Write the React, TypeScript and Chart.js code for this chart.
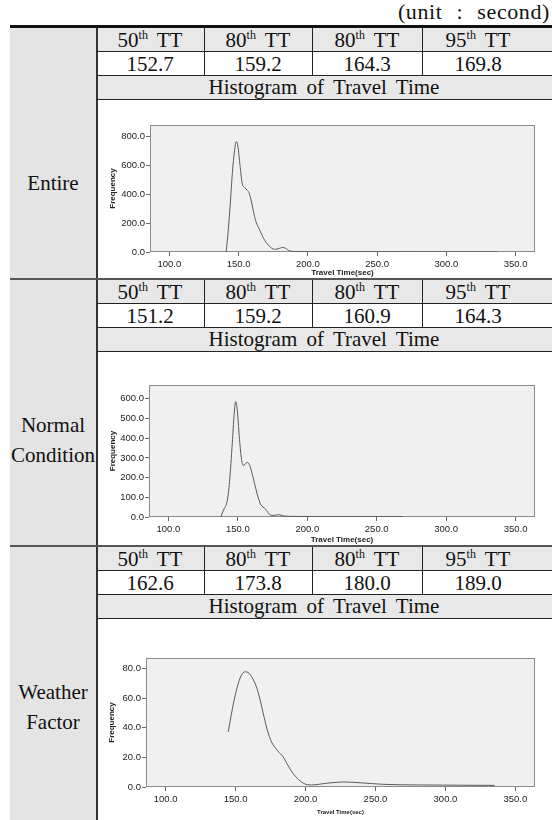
import React, { useEffect, useRef } from "react";
import { Chart, registerables } from "chart.js";
Chart.register(...registerables);

// ---------- data ----------
const percentiles = ["50", "80", "80", "95"];
const entireStats = ["152.7", "159.2", "164.3", "169.8"];
const normalStats = ["151.2", "159.2", "160.9", "164.3"];
const weatherStats = ["162.6", "173.8", "180.0", "189.0"];
const xTicks = [100, 150, 200, 250, 300, 350];
const entireYTicks = [0, 200, 400, 600, 800];
const normalYTicks = [0, 100, 200, 300, 400, 500, 600];
const weatherYTicks = [0, 20, 40, 60, 80];

const entireX = [141, 142.5, 144, 145.5, 147, 148.3, 149.5, 151, 152.5, 154.3, 156, 157.4, 159, 160.5, 162.5, 165, 168, 172, 175.8, 178.5, 181.8, 184, 187, 192, 200, 230, 280, 337];
const entireY = [0, 150, 340, 551, 700, 765, 730, 600, 480, 447, 430, 413, 360, 290, 210, 158, 95, 42, 19, 22, 32, 25, 7, 3, 2, 2, 1, 1];

const normalX = [137.6, 140, 142.4, 144, 146, 147.3, 148.4, 149.6, 151, 152.5, 153.8, 155.3, 156.7, 158.5, 160.3, 162, 163.9, 166.3, 169.9, 173.4, 176, 179.4, 183, 190, 210, 240, 269];
const normalY = [0, 40, 83, 180, 376, 520, 586, 540, 410, 300, 262, 268, 278, 262, 221, 170, 117, 66, 40, 10, 8, 12, 5, 3, 2, 2, 2];

const weatherX = [144.8, 147, 149.5, 152, 154.5, 157.1, 159.5, 162, 164.9, 167.5, 169.8, 172.5, 175.7, 180, 184, 187.5, 191.2, 195, 198.3, 201, 204.3, 215, 227, 240, 255.5, 280, 310, 335.2];
const weatherY = [37.2, 49, 60.8, 70, 76, 77.7, 76.8, 73.5, 67.6, 59, 49.6, 39, 30.4, 24.5, 20.3, 14.5, 9, 5, 2.7, 1.6, 1.4, 2.5, 3.4, 2.8, 1.8, 1.4, 1.2, 1.1];

// ---------- layout ----------
const PAGE_W = 552;
const LEFT = 10;
const COL_X = [96, 204, 312, 422, 534];
const ROW_H = 24;
const SERIF = "'Liberation Serif', 'Times New Roman', serif";
const SANS = "'Liberation Sans', Arial, sans-serif";

const plotFrame = {
  id: "plotFrame",
  beforeDatasetsDraw(chart: any) {
    const { ctx, chartArea: a } = chart;
    ctx.save();
    ctx.fillStyle = "#f0f0f0";
    ctx.fillRect(a.left, a.top, a.right - a.left, a.bottom - a.top);
    ctx.strokeStyle = "#8a8a8a";
    ctx.lineWidth = 1;
    ctx.strokeRect(a.left + 0.5, a.top + 0.5, a.right - a.left - 1, a.bottom - a.top - 1);
    ctx.restore();
  },
};

type ChartProps = {
  xs: number[];
  ys: number[];
  yTicks: number[];
  yMax: number;
  cellTop: number;
  cellBottom: number;
  plotLeft: number;
  plotTop: number;
  plotBottom: number;
  plotRight: number;
  yTitleX: number;
  xTitleY: number;
  xTitleSize: number;
};

function Histo(p: ChartProps) {
  const ref = useRef<HTMLCanvasElement | null>(null);
  const canvasLeft = COL_X[0] + 2;
  const width = PAGE_W - canvasLeft;
  const height = p.cellBottom - p.cellTop;
  useEffect(() => {
    if (!ref.current) return;
    const yScaleLeft = p.yTitleX - 4 - canvasLeft;
    const chart = new Chart(ref.current, {
      type: "line",
      data: {
        datasets: [
          {
            data: p.xs.map((x, i) => ({ x, y: p.ys[i] })),
            borderColor: "#5a5a5a",
            borderWidth: 1,
            pointRadius: 0,
            cubicInterpolationMode: "monotone",
            fill: false,
          },
        ],
      },
      options: {
        animation: false,
        responsive: false,
        maintainAspectRatio: false,
        layout: {
          padding: {
            left: yScaleLeft,
            top: p.plotTop - p.cellTop,
            right: PAGE_W - p.plotRight,
            bottom: p.cellBottom - p.xTitleY - p.xTitleSize / 2,
          },
        },
        plugins: { legend: { display: false }, tooltip: { enabled: false } },
        scales: {
          x: {
            type: "linear",
            min: 86,
            max: 364,
            afterBuildTicks: (axis: any) => {
              axis.ticks = xTicks.map((v) => ({ value: v }));
            },
            afterFit: (scale: any) => {
              scale.height = p.xTitleY + p.xTitleSize / 2 - p.plotBottom;
            },
            grid: { drawOnChartArea: false, drawTicks: true, tickLength: 4, color: "#666" },
            border: { display: false },
            ticks: {
              padding: 3,
              color: "#222",
              font: { family: SANS, size: 9.5 },
              maxRotation: 0,
              autoSkip: false,
              callback: (v: any) => Number(v).toFixed(1),
            },
            title: {
              display: true,
              text: "Travel Time(sec)",
              color: "#222",
              padding: 0,
              font: { family: SANS, size: p.xTitleSize, weight: "bold", lineHeight: 1 },
            },
          },
          y: {
            type: "linear",
            min: 0,
            max: p.yMax,
            afterBuildTicks: (axis: any) => {
              axis.ticks = p.yTicks.map((v) => ({ value: v }));
            },
            afterFit: (scale: any) => {
              scale.width = p.plotLeft - p.yTitleX + 4;
            },
            grid: { drawOnChartArea: false, drawTicks: true, tickLength: 4, color: "#666" },
            border: { display: false },
            ticks: {
              padding: 1,
              color: "#222",
              font: { family: SANS, size: 9.5 },
              autoSkip: false,
              callback: (v: any) => Number(v).toFixed(1),
            },
            title: {
              display: true,
              text: "Frequency",
              color: "#222",
              padding: 0,
              font: { family: SANS, size: 8, weight: "bold", lineHeight: 1 },
            },
          },
        },
      },
      plugins: [plotFrame],
    } as any);
    return () => chart.destroy();
  }, []);
  return (
    <canvas
      ref={ref}
      width={width}
      height={height}
      style={{ position: "absolute", left: canvasLeft, top: p.cellTop, width, height }}
    />
  );
}

function abs(left: number, top: number, width: number, height: number, extra: any = {}) {
  return { position: "absolute" as const, left, top, width, height, ...extra };
}

function TextCell({ left, top, width, height, bg, children, size = 21 }: any) {
  return (
    <div
      style={abs(left, top, width, height, {
        background: bg,
        display: "flex",
        alignItems: "center",
        justifyContent: "center",
        fontFamily: SERIF,
        fontSize: size,
        color: "#111",
        wordSpacing: 4,
        lineHeight: 1,
        whiteSpace: "nowrap",
      })}
    >
      {children}
    </div>
  );
}

type Section = {
  names: string[];
  nameY: number;
  stats: string[];
  top: number;
  bottom: number;
  chart: Omit<ChartProps, "cellTop" | "cellBottom">;
};

const sections: Section[] = [
  {
    names: ["Entire"],
    nameY: 183,
    stats: entireStats,
    top: 27,
    bottom: 279,
    chart: {
      xs: entireX, ys: entireY, yTicks: entireYTicks, yMax: 880,
      plotLeft: 150, plotTop: 125, plotBottom: 252, plotRight: 535,
      yTitleX: 113, xTitleY: 273, xTitleSize: 8,
    },
  },
  {
    names: ["Normal", "Condition"],
    nameY: 440,
    stats: normalStats,
    top: 279,
    bottom: 546,
    chart: {
      xs: normalX, ys: normalY, yTicks: normalYTicks, yMax: 670,
      plotLeft: 149, plotTop: 385, plotBottom: 517, plotRight: 535,
      yTitleX: 113, xTitleY: 540, xTitleSize: 8,
    },
  },
  {
    names: ["Weather", "Factor"],
    nameY: 707,
    stats: weatherStats,
    top: 546,
    bottom: 820,
    chart: {
      xs: weatherX, ys: weatherY, yTicks: weatherYTicks, yMax: 87,
      plotLeft: 146, plotTop: 658, plotBottom: 787, plotRight: 535,
      yTitleX: 112, xTitleY: 812, xTitleSize: 6,
    },
  },
];

function SectionView({ s }: { s: Section }) {
  const x0 = COL_X[0];
  const w = PAGE_W - x0;
  const r1 = s.top;
  const r2 = s.top + ROW_H;
  const r3 = s.top + 2 * ROW_H;
  const r4 = s.top + 3 * ROW_H;
  return (
    <>
      {/* header row */}
      <div style={abs(x0, r1, w, ROW_H, { background: "#e8e8e8" })} />
      {percentiles.map((p, i) => (
        <TextCell key={"h" + i} left={COL_X[i]} top={r1 + 1} width={COL_X[i + 1] - COL_X[i]} height={ROW_H}>
          <span>
            {p}
            <sup style={{ fontSize: 12, verticalAlign: 0, position: "relative", top: -8 }}>th</sup>
            {" "}TT
          </span>
        </TextCell>
      ))}
      {/* value row */}
      {s.stats.map((v, i) => (
        <TextCell key={"v" + i} left={COL_X[i]} top={r2 + 1} width={COL_X[i + 1] - COL_X[i]} height={ROW_H}>
          {v}
        </TextCell>
      ))}
      {/* histogram title row */}
      <TextCell left={x0} top={r3} width={w} height={ROW_H} bg="#e8e8e8">
        <span>Histogram of Travel Time</span>
      </TextCell>
      {/* lines */}
      <div style={abs(x0, r2, w, 1, { background: "#222" })} />
      <div style={abs(x0, r3, w, 1, { background: "#222" })} />
      <div style={abs(x0, r4, w, 1, { background: "#222" })} />
      {COL_X.slice(1, 4).map((cx, i) => (
        <div key={"c" + i} style={abs(cx, r1, 1, 2 * ROW_H, { background: "#222" })} />
      ))}
      {/* section label */}
      <div
        style={abs(LEFT, s.nameY - 15 * s.names.length, x0 - LEFT, 30 * s.names.length, {
          display: "flex",
          flexDirection: "column",
          alignItems: "center",
          justifyContent: "center",
          fontFamily: SERIF,
          fontSize: 21,
          color: "#111",
          lineHeight: "30px",
        })}
      >
        {s.names.map((n) => (
          <div key={n}>{n}</div>
        ))}
      </div>
      <Histo {...s.chart} cellTop={r4 + 1} cellBottom={s.bottom - 1} />
    </>
  );
}

export default function App() {
  useEffect(() => {
    document.body.style.margin = "0";
  }, []);
  return (
    <div style={{ position: "absolute", left: 0, top: 0, width: PAGE_W, height: 820, background: "#fff", overflow: "hidden" }}>
      {/* left gray column */}
      <div style={abs(LEFT, 27, COL_X[0] - LEFT, 820 - 27, { background: "#e4e4e4" })} />
      {sections.map((s, i) => (
        <SectionView key={i} s={s} />
      ))}
      {/* vertical divider of left column */}
      <div style={abs(COL_X[0], 27, 2, 820 - 27, { background: "#333" })} />
      {/* section dividers */}
      <div style={abs(LEFT, 25, PAGE_W - LEFT, 3, { background: "#111" })} />
      {sections.slice(1).map((s, i) => (
        <div key={"sd" + i} style={abs(LEFT, s.top - 1, PAGE_W - LEFT, 2, { background: "#555" })} />
      ))}
      {/* unit label */}
      <div
        style={{
          position: "absolute",
          right: 2,
          top: 0,
          fontFamily: SERIF,
          fontSize: 22,
          color: "#111",
          wordSpacing: 8,
          letterSpacing: 0.6,
          lineHeight: "23px",
          whiteSpace: "nowrap",
        }}
      >
        (unit : second)
      </div>
    </div>
  );
}
